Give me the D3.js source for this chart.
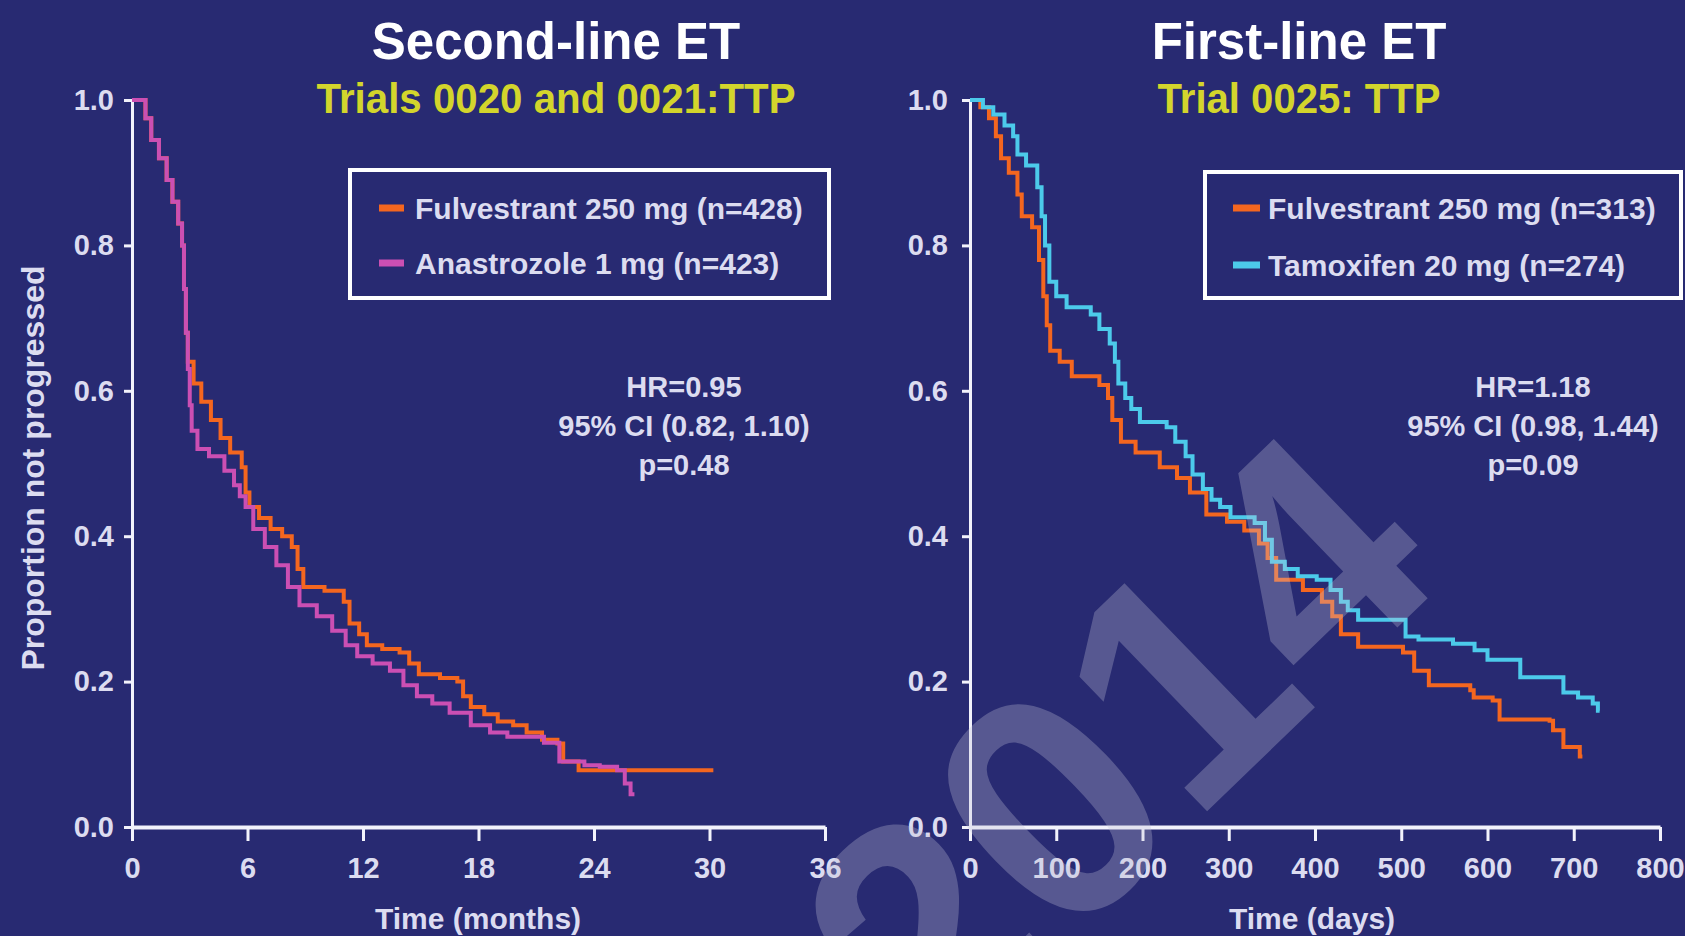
<!DOCTYPE html>
<html>
<head>
<meta charset="utf-8">
<script src="https://cdn.jsdelivr.net/npm/d3@7"></script>
<style>
    html, body { margin: 0; padding: 0; background: #282a72; overflow: hidden; }
    text { font-family: "Liberation Sans", Arial, sans-serif; }
</style>
</head>
<body>
<div id="container"></div>
<script>
const WIDTH = 1685;
const HEIGHT = 936;

// 刻度
const monthTicks = [0, 6, 12, 18, 24, 30, 36];
const dayTicks = [0, 100, 200, 300, 400, 500, 600, 700, 800];
const yTicks = [0, 0.2, 0.4, 0.6, 0.8, 1.0];

// second-line ET (months, proportion not progressed)
const fulvSecond = [[0, 1.0], [0.7, 0.975], [1.0, 0.945], [1.4, 0.92], [1.8, 0.89], [2.1, 0.86], [2.4, 0.83],
    [2.6, 0.8], [2.7, 0.74], [2.8, 0.68], [2.9, 0.64], [3.2, 0.61], [3.6, 0.585], [4.1, 0.56], [4.6, 0.535],
    [5.1, 0.515], [5.7, 0.495], [5.9, 0.46], [6.1, 0.44], [6.6, 0.425], [7.2, 0.41], [7.8, 0.4], [8.3, 0.385],
    [8.6, 0.355], [8.9, 0.33], [10.0, 0.325], [11.0, 0.31], [11.3, 0.28], [11.8, 0.265], [12.2, 0.25],
    [13.0, 0.245], [13.9, 0.24], [14.4, 0.225], [14.9, 0.21], [16.0, 0.205], [16.9, 0.2], [17.2, 0.18],
    [17.6, 0.165], [18.3, 0.155], [19.0, 0.145], [19.8, 0.14], [20.5, 0.13], [21.3, 0.12], [22.1, 0.115],
    [22.4, 0.09], [23.2, 0.078], [30.2, 0.078]];
const anasSecond = [[0, 1.0], [0.7, 0.975], [1.0, 0.945], [1.4, 0.92], [1.8, 0.89], [2.1, 0.86], [2.4, 0.83],
    [2.6, 0.8], [2.7, 0.74], [2.8, 0.68], [2.9, 0.63], [3.0, 0.58], [3.1, 0.545], [3.4, 0.52], [4.0, 0.51],
    [4.8, 0.49], [5.3, 0.47], [5.6, 0.455], [5.9, 0.44], [6.3, 0.41], [6.9, 0.385], [7.5, 0.36], [8.1, 0.33],
    [8.7, 0.305], [9.6, 0.29], [10.4, 0.27], [11.1, 0.25], [11.7, 0.235], [12.5, 0.225], [13.4, 0.215],
    [14.1, 0.195], [14.8, 0.18], [15.6, 0.17], [16.5, 0.157], [17.6, 0.14], [18.6, 0.13], [19.5, 0.124],
    [21.4, 0.116], [22.2, 0.09], [23.5, 0.085], [24.3, 0.083], [25.2, 0.078], [25.6, 0.06], [25.9, 0.045],
    [26.1, 0.045]];

// first-line ET (days)
const fulvFirst = [[0, 1.0], [12, 0.99], [22, 0.975], [30, 0.95], [36, 0.92], [45, 0.9], [55, 0.87], [60, 0.84],
    [72, 0.825], [80, 0.78], [85, 0.73], [89, 0.69], [93, 0.655], [104, 0.64], [118, 0.62], [150, 0.608],
    [160, 0.59], [165, 0.56], [175, 0.53], [192, 0.515], [220, 0.495], [240, 0.48], [255, 0.46], [274, 0.43],
    [298, 0.42], [318, 0.408], [335, 0.39], [345, 0.37], [355, 0.34], [386, 0.326], [408, 0.31], [420, 0.29],
    [430, 0.265], [450, 0.248], [502, 0.24], [515, 0.215], [532, 0.195], [580, 0.188], [584, 0.178],
    [606, 0.174], [614, 0.148], [672, 0.146], [676, 0.133], [688, 0.11], [707, 0.097], [710, 0.097]];
const tamFirst = [[0, 1.0], [15, 0.99], [27, 0.98], [40, 0.965], [50, 0.95], [55, 0.925], [65, 0.91], [78, 0.88],
    [83, 0.84], [87, 0.8], [92, 0.75], [100, 0.73], [112, 0.715], [140, 0.705], [150, 0.685], [162, 0.665],
    [168, 0.64], [172, 0.61], [180, 0.59], [187, 0.575], [197, 0.557], [228, 0.55], [238, 0.53], [250, 0.51],
    [258, 0.485], [270, 0.465], [280, 0.45], [290, 0.44], [302, 0.426], [330, 0.418], [342, 0.395],
    [350, 0.365], [365, 0.355], [380, 0.345], [402, 0.34], [418, 0.326], [430, 0.31], [438, 0.298],
    [450, 0.285], [505, 0.262], [520, 0.258], [560, 0.252], [585, 0.243], [600, 0.23], [638, 0.206],
    [688, 0.185], [705, 0.178], [722, 0.17], [728, 0.16], [730, 0.16]];

// 文字
const secondLegend = ["Fulvestrant 250 mg (n=428)", "Anastrozole 1 mg (n=423)"];
const firstLegend = ["Fulvestrant 250 mg (n=313)", "Tamoxifen 20 mg (n=274)"];
const secondStats = ["HR=0.95", "95% CI (0.82, 1.10)", "p=0.48"];
const firstStats = ["HR=1.18", "95% CI (0.98, 1.44)", "p=0.09"];

const ORANGE = "#f4661f";
const PINK = "#cb4fb3";
const CYAN = "#4ccaea";
const AXIS = "#f2f2fb";
const LABEL = "#dcdcf0";

const svg = d3.select("#container")
    .append("svg")
    .attr("width", WIDTH)
    .attr("height", HEIGHT);

svg.append("rect")
    .attr("width", WIDTH)
    .attr("height", HEIGHT)
    .attr("fill", "#282a72");

const Y0 = 827, Y1 = 100;

const panels = [
    {
        title: "Second-line ET", subtitle: "Trials 0020 and 0021:TTP", cx: 556, subW: 479,
        domain: [0, 36], x0: 132, x1: 825, ticks: monthTicks, ypad: 10,
        xTitle: "Time (months)", xTitleX: 478,
        series: [{ data: fulvSecond, color: ORANGE }, { data: anasSecond, color: PINK }],
        legend: secondLegend, legendColors: [ORANGE, PINK],
        box: [350, 170, 829, 298], swatch: [379, 404], textX: 415, rows: [208, 263],
        stats: secondStats, statsX: 684
    },
    {
        title: "First-line ET", subtitle: "Trial 0025: TTP", cx: 1299, subW: 283,
        domain: [0, 800], x0: 970, x1: 1660, ticks: dayTicks, ypad: 14,
        xTitle: "Time (days)", xTitleX: 1312,
        series: [{ data: fulvFirst, color: ORANGE }, { data: tamFirst, color: CYAN }],
        legend: firstLegend, legendColors: [ORANGE, CYAN],
        box: [1205, 172, 1681, 298], swatch: [1233, 1260], textX: 1268, rows: [208, 265],
        stats: firstStats, statsX: 1533
    }
];

panels.forEach(drawPanel);

// y轴标题
svg.append("text")
    .attr("transform", "translate(44,468) rotate(-90)")
    .attr("text-anchor", "middle")
    .attr("fill", LABEL)
    .style("font-size", "31px")
    .style("font-weight", "bold")
    .attr("textLength", 405)
    .attr("lengthAdjust", "spacingAndGlyphs")
    .text("Proportion not progressed");

// 水印
svg.append("text")
    .attr("transform", "translate(1112,742) rotate(-44)")
    .attr("text-anchor", "middle")
    .attr("dy", "0.36em")
    .attr("fill", "#c4c4d8")
    .attr("opacity", 0.3)
    .style("font-size", "322px")
    .style("font-weight", "bold")
    .text("2014");

function drawPanel(p) {
    const g = svg.append("g");
    const x = d3.scaleLinear().domain(p.domain).range([p.x0, p.x1]);
    const y = d3.scaleLinear().domain([0, 1]).range([Y0, Y1]);

    // 标题
    g.append("text")
        .attr("x", p.cx).attr("y", 59)
        .attr("text-anchor", "middle")
        .attr("fill", "#ffffff")
        .style("font-size", "51px")
        .style("font-weight", "bold")
        .text(p.title);
    g.append("text")
        .attr("x", p.cx).attr("y", 113)
        .attr("text-anchor", "middle")
        .attr("fill", "#d3d52c")
        .style("font-size", "43px")
        .style("font-weight", "bold")
        .attr("textLength", p.subW)
        .attr("lengthAdjust", "spacingAndGlyphs")
        .text(p.subtitle);

    // 坐标轴
    const xAxis = g.append("g")
        .attr("transform", `translate(0,${Y0})`)
        .call(d3.axisBottom(x).tickValues(p.ticks).tickSize(14).tickSizeOuter(0).tickPadding(16));
    xAxis.select(".domain").attr("stroke", AXIS).attr("stroke-width", 4);
    xAxis.selectAll(".tick line").attr("stroke", AXIS).attr("stroke-width", 3);

    const yAxis = g.append("g")
        .attr("transform", `translate(${p.x0},0)`)
        .call(d3.axisLeft(y).tickValues(yTicks).tickFormat(d3.format(".1f"))
            .tickSize(8).tickSizeOuter(0).tickPadding(p.ypad));
    yAxis.select(".domain").attr("stroke", AXIS).attr("stroke-width", 3);
    yAxis.selectAll(".tick line").attr("stroke", AXIS).attr("stroke-width", 3);

    g.selectAll(".tick text")
        .attr("fill", LABEL)
        .style("font-family", "'Liberation Sans', Arial, sans-serif")
        .style("font-size", "29px")
        .style("font-weight", "bold");

    g.append("text")
        .attr("x", p.xTitleX).attr("y", 929)
        .attr("text-anchor", "middle")
        .attr("fill", LABEL)
        .style("font-size", "30px")
        .style("font-weight", "bold")
        .text(p.xTitle);

    // 曲线
    const line = d3.line()
        .x(d => x(d[0]))
        .y(d => y(d[1]))
        .curve(d3.curveStepAfter);
    p.series.forEach(s => {
        g.append("path")
            .datum(s.data)
            .attr("d", line)
            .attr("fill", "none")
            .attr("stroke", s.color)
            .attr("stroke-width", 4);
    });

    // 图例
    const [bx0, by0, bx1, by1] = p.box;
    g.append("rect")
        .attr("x", bx0).attr("y", by0)
        .attr("width", bx1 - bx0).attr("height", by1 - by0)
        .attr("fill", "none")
        .attr("stroke", "#ffffff")
        .attr("stroke-width", 4);
    p.legend.forEach((t, i) => {
        g.append("line")
            .attr("x1", p.swatch[0]).attr("x2", p.swatch[1])
            .attr("y1", p.rows[i]).attr("y2", p.rows[i])
            .attr("stroke", p.legendColors[i])
            .attr("stroke-width", 7);
        g.append("text")
            .attr("x", p.textX).attr("y", p.rows[i] + 11)
            .attr("fill", LABEL)
            .style("font-size", "30px")
            .style("font-weight", "bold")
            .text(t);
    });

    // HR
    p.stats.forEach((t, i) => {
        g.append("text")
            .attr("x", p.statsX).attr("y", 397 + i * 39)
            .attr("text-anchor", "middle")
            .attr("fill", LABEL)
            .style("font-size", "29px")
            .style("font-weight", "bold")
            .text(t);
    });
}
</script>
</body>
</html>
